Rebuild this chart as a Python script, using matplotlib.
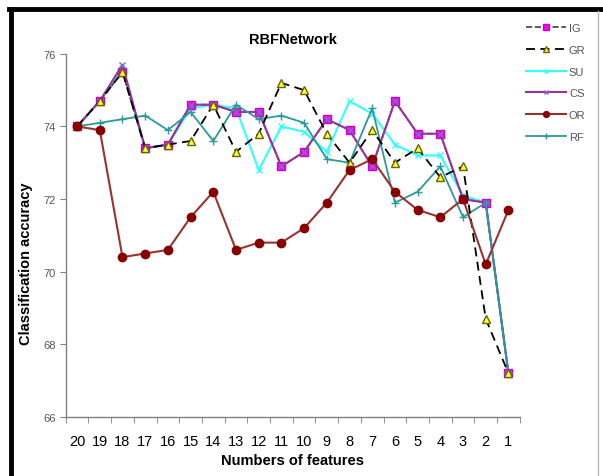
import matplotlib.pyplot as plt
from matplotlib.lines import Line2D
import numpy as np

plt.rcParams['font.family'] = ['Liberation Sans', 'DejaVu Sans']

# Данные
features = [20, 19, 18, 17, 16, 15, 14, 13, 12, 11, 10, 9, 8, 7, 6, 5, 4, 3, 2, 1]
ig = [74.0, 74.7, 75.5, 73.4, 73.5, 74.6, 74.6, 74.4, 74.4, 72.9,
      73.3, 74.2, 73.9, 72.9, 74.7, 73.8, 73.8, 72.0, 71.9, 67.2]
gr = [74.0, 74.7, 75.5, 73.4, 73.5, 73.6, 74.6, 73.3, 73.8, 75.2,
      75.0, 73.8, 73.0, 73.9, 73.0, 73.4, 72.6, 72.9, 68.7, 67.2]
su = [74.0, 74.7, 75.6, 73.4, 73.5, 74.5, 74.6, 74.5, 72.8, 74.0,
      73.85, 73.3, 74.7, 74.35, 73.5, 73.2, 73.2, 72.1, 71.9, 67.2]
cs = [74.0, 74.7, 75.7, 73.4, 73.5, 74.6, 74.6, 74.4, 74.4, 72.9,
      73.3, 74.2, 73.9, 72.9, 74.7, 73.8, 73.8, 72.0, 71.9, 67.2]
orr = [74.0, 73.9, 70.4, 70.5, 70.6, 71.5, 72.2, 70.6, 70.8, 70.8,
       71.2, 71.9, 72.8, 73.1, 72.2, 71.7, 71.5, 72.0, 70.2, 71.7]
rf = [74.0, 74.1, 74.2, 74.3, 73.9, 74.4, 73.6, 74.6, 74.2, 74.3,
      74.1, 73.1, 73.0, 74.5, 71.9, 72.2, 72.9, 71.5, 71.9, 67.2]

x = np.arange(len(features))

fig = plt.figure(figsize=(6.03, 4.77), dpi=100)
ax = fig.add_axes([0.109, 0.124, 0.753, 0.761])

ax.plot(x, ig, '--', color='#404040', lw=1.2, marker='s', ms=6,
        mfc='#ff00ff', mec='#cc00cc', label='IG', zorder=3)
ax.plot(x, su, '-', color='#33ffff', lw=1.5, marker='x', ms=5,
        mec='#33ffff', label='SU', zorder=2)
ax.plot(x, cs, '-', color='#993399', lw=1.5, marker='x', ms=5,
        mec='#8866cc', label='CS', zorder=4)
ax.plot(x, rf, '-', color='#2a9a9a', lw=1.3, marker='+', ms=6,
        mec='#2a9a9a', label='RF', zorder=4)
ax.plot(x, gr, '--', color='black', lw=1.3, dashes=(5, 3), marker='^', ms=6,
        mfc='#ffff33', mec='#666600', label='GR', zorder=5)
ax.plot(x, orr, '-', color='#993333', lw=1.5, marker='o', ms=6,
        mfc='#880000', mec='#880000', label='OR', zorder=5)

ax.set_xlim(-0.5, len(features) - 0.5)
ax.set_ylim(66, 76)
ax.set_yticks([66, 68, 70, 72, 74, 76])
ax.set_xticks(x)
ax.set_xticklabels([str(f) for f in features])
ax.set_xticks(np.arange(-0.5, len(features)), minor=True)
ax.tick_params(axis='x', which='major', length=0, labelsize=10.5, pad=12)
ax.tick_params(axis='x', which='minor', length=4, color='#808080', direction='out')
ax.tick_params(axis='y', length=4, color='#808080', labelsize=8,
               labelcolor='#555555', pad=3)

for s in ['top', 'right']:
    ax.spines[s].set_visible(False)
for s in ['left', 'bottom']:
    ax.spines[s].set_color('#808080')
    ax.spines[s].set_linewidth(1.0)

ax.set_title('RBFNetwork', fontsize=10.5, fontweight='bold', pad=8)
ax.set_xlabel('Numbers of features', fontsize=10.5, fontweight='bold', labelpad=4)
ax.set_ylabel('Classification accuracy', fontsize=10.5, fontweight='bold')
ax.yaxis.set_label_coords(-0.073, 0.424)

handles, labels = ax.get_legend_handles_labels()
order = ['IG', 'GR', 'SU', 'CS', 'OR', 'RF']
hl = {l: h for h, l in zip(handles, labels)}
fig.legend([hl[o] for o in order], order, loc='upper left',
           bbox_to_anchor=(0.855, 0.97), frameon=False, fontsize=8,
           labelspacing=1.05, handlelength=3.6, handletextpad=0.3,
           markerscale=0.7, labelcolor='#555555')

# рамка
fig.add_artist(Line2D([0.019, 0.019], [0.0, 0.98], color='black', lw=3.5,
                      transform=fig.transFigure))
fig.add_artist(Line2D([0.015, 1.0], [0.978, 0.978], color='black', lw=3.5,
                      transform=fig.transFigure))
fig.add_artist(Line2D([0.992, 0.992], [0.0, 0.975], color='#bbbbbb', lw=1,
                      transform=fig.transFigure))

fig.savefig('out.png', dpi=100)
